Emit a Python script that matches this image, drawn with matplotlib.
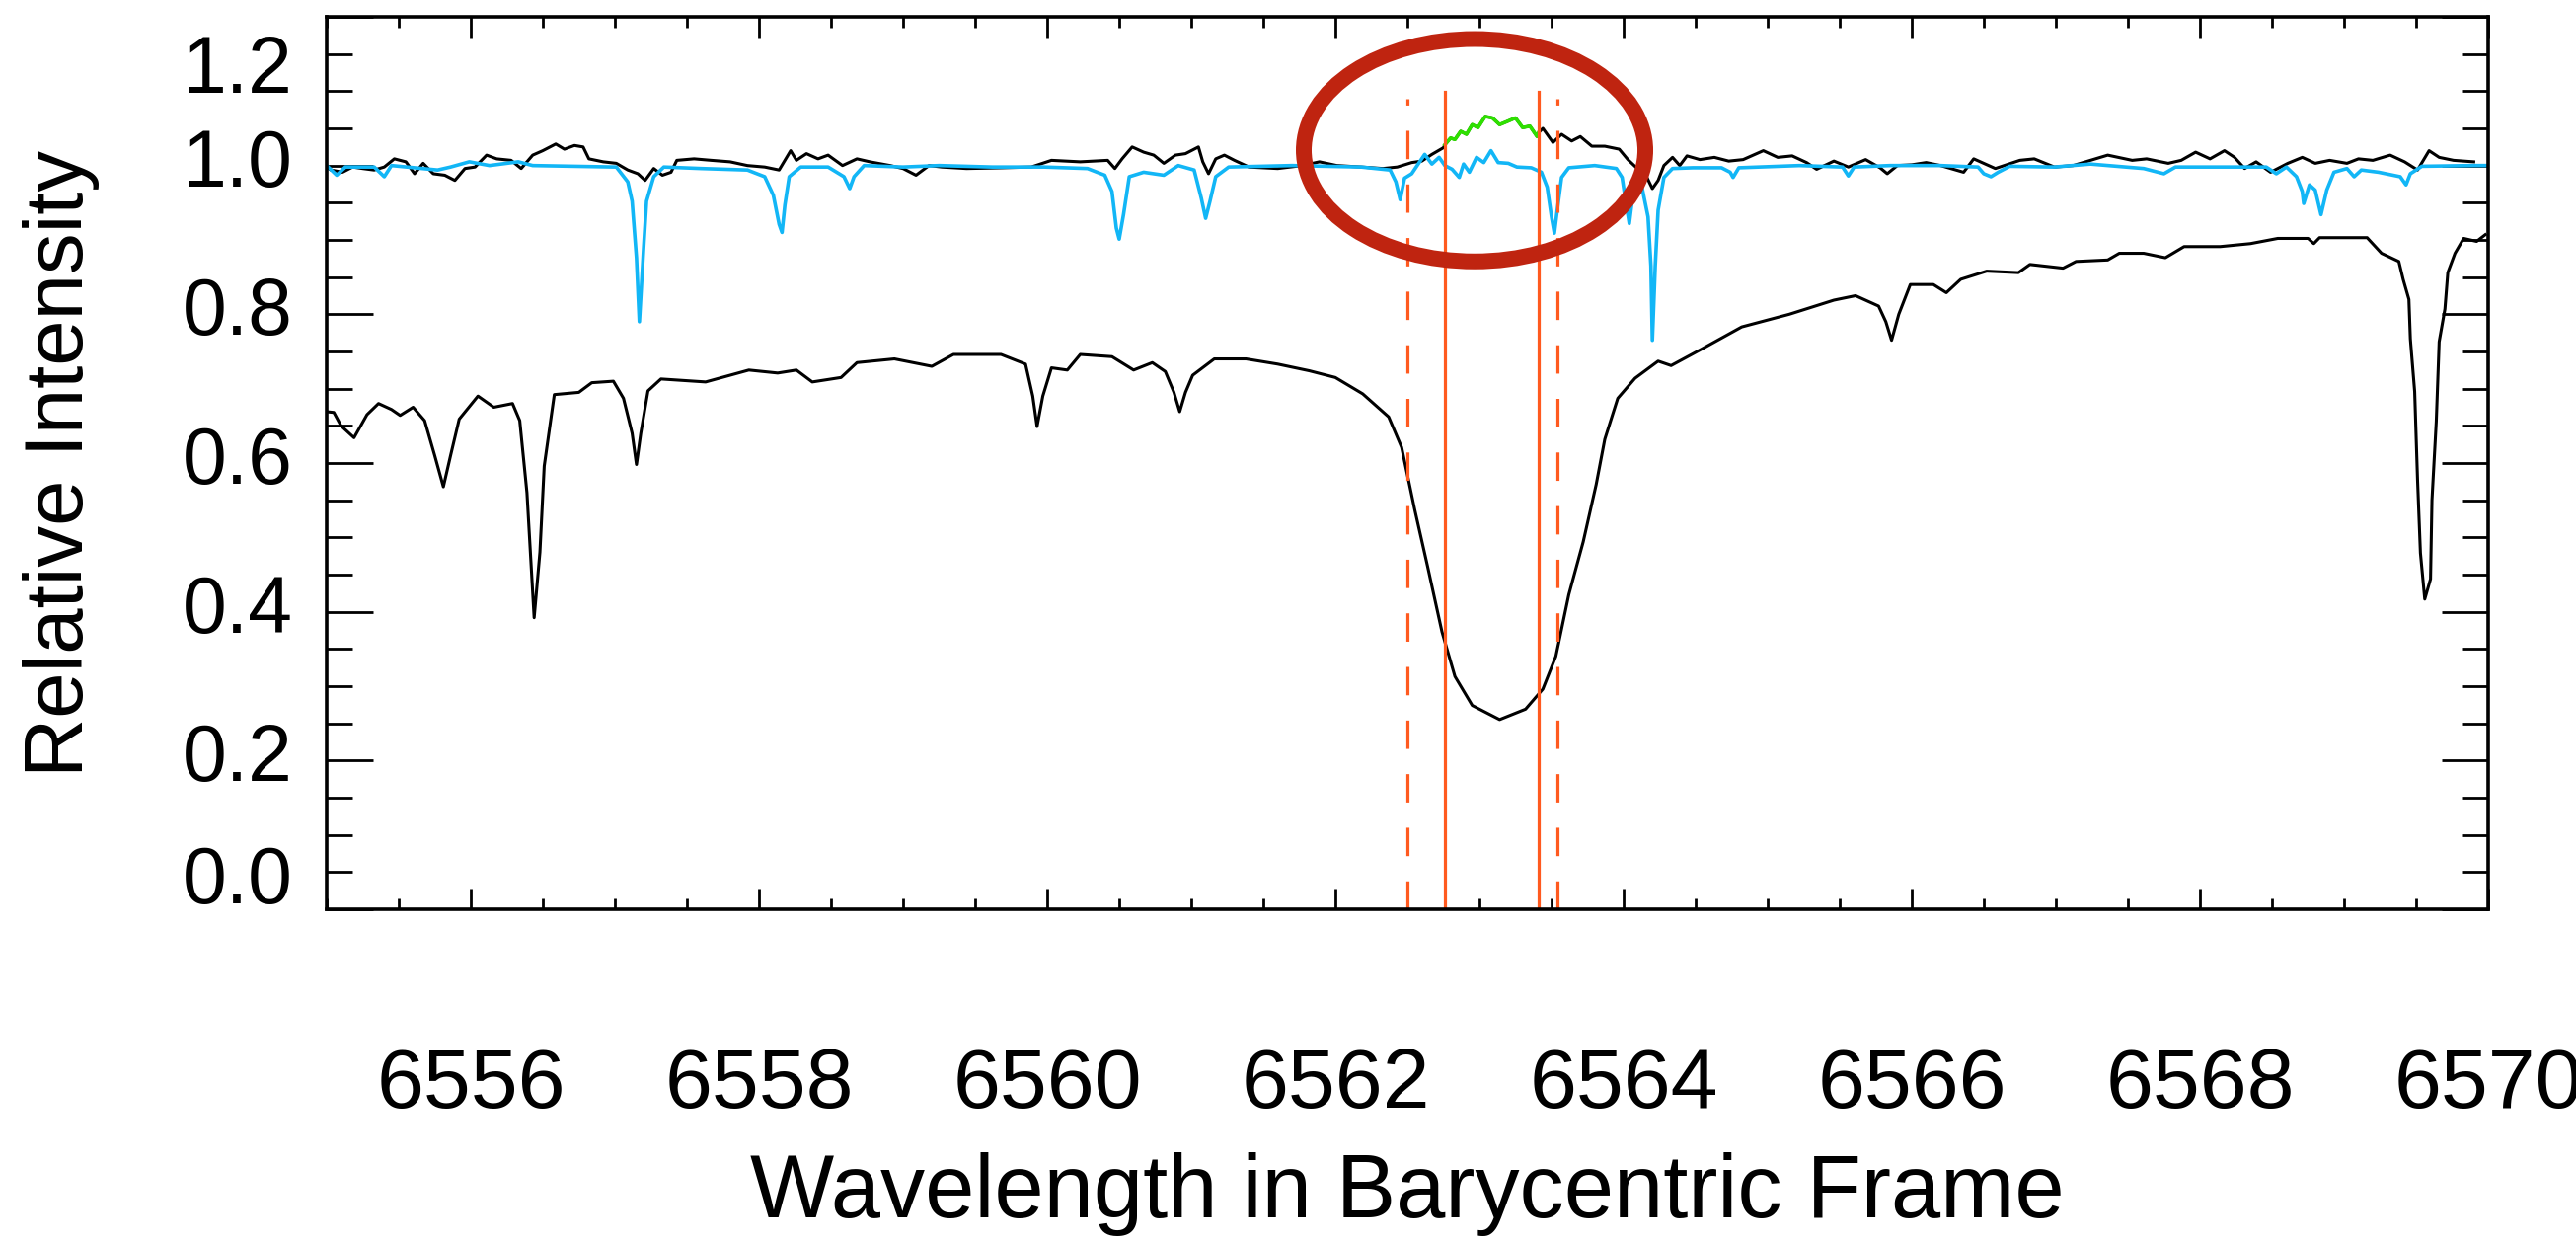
import numpy as np
import matplotlib.pyplot as plt
from matplotlib.patches import Ellipse
from matplotlib.ticker import MultipleLocator
import matplotlib.transforms as mtransforms

plt.rcParams['font.family'] = ['Liberation Sans', 'DejaVu Sans']

# lower black curve: stellar spectrum around H-alpha
wl_star = [6555.00, 6555.05, 6555.10, 6555.19, 6555.28, 6555.36, 6555.45, 6555.51, 6555.60, 6555.68,
           6555.75, 6555.81, 6555.86, 6555.92, 6556.05, 6556.16, 6556.29, 6556.34, 6556.39, 6556.44,
           6556.48, 6556.51, 6556.58, 6556.75, 6556.84, 6556.99, 6557.06, 6557.12, 6557.15, 6557.18,
           6557.23, 6557.32, 6557.63, 6557.93, 6558.13, 6558.26, 6558.37, 6558.57, 6558.68, 6558.94,
           6559.20, 6559.35, 6559.68, 6559.85, 6559.90, 6559.93, 6559.97, 6560.03, 6560.14, 6560.23,
           6560.45, 6560.60, 6560.73, 6560.82, 6560.88, 6560.92, 6560.96, 6561.01, 6561.16, 6561.38,
           6561.60, 6561.82, 6562.00, 6562.19, 6562.37, 6562.46, 6562.55, 6562.64, 6562.74, 6562.83,
           6562.95, 6563.14, 6563.32, 6563.44, 6563.53, 6563.62, 6563.72, 6563.81, 6563.87, 6563.96,
           6564.08, 6564.24, 6564.33, 6564.54, 6564.82, 6565.15, 6565.46, 6565.61, 6565.77, 6565.82,
           6565.86, 6565.91, 6565.99, 6566.15, 6566.24, 6566.34, 6566.52, 6566.74, 6566.82, 6567.05,
           6567.14, 6567.36, 6567.44, 6567.61, 6567.76, 6567.89, 6568.14, 6568.35, 6568.54, 6568.75,
           6568.79, 6568.83, 6569.16, 6569.26, 6569.38, 6569.41, 6569.45, 6569.46, 6569.49, 6569.51,
           6569.53, 6569.56, 6569.60, 6569.61, 6569.64, 6569.66, 6569.70, 6569.72, 6569.77, 6569.83,
           6569.92, 6569.98]
flux_star = [0.669, 0.668, 0.650, 0.634, 0.665, 0.680, 0.672, 0.664, 0.675, 0.657,
             0.610, 0.568, 0.610, 0.659, 0.690, 0.675, 0.680, 0.657, 0.560, 0.392,
             0.480, 0.596, 0.692, 0.695, 0.708, 0.710, 0.687, 0.640, 0.598, 0.640,
             0.697, 0.713, 0.709, 0.725, 0.721, 0.725, 0.709, 0.715, 0.735, 0.740,
             0.730, 0.746, 0.746, 0.733, 0.690, 0.649, 0.690, 0.728, 0.725, 0.746,
             0.743, 0.725, 0.735, 0.723, 0.695, 0.669, 0.695, 0.718, 0.740, 0.740,
             0.733, 0.724, 0.715, 0.693, 0.662, 0.621, 0.538, 0.461, 0.373, 0.313,
             0.274, 0.255, 0.269, 0.296, 0.340, 0.423, 0.494, 0.571, 0.632, 0.687,
             0.714, 0.737, 0.731, 0.753, 0.783, 0.800, 0.819, 0.825, 0.811, 0.790,
             0.765, 0.800, 0.840, 0.840, 0.829, 0.847, 0.858, 0.856, 0.867, 0.862,
             0.871, 0.873, 0.882, 0.882, 0.876, 0.891, 0.891, 0.895, 0.902, 0.902,
             0.895, 0.903, 0.903, 0.882, 0.871, 0.847, 0.820, 0.767, 0.696, 0.577,
             0.479, 0.417, 0.444, 0.550, 0.656, 0.763, 0.807, 0.856, 0.882, 0.902,
             0.898, 0.907]

# upper black curve: residual spectrum
wl_resid = [6555.00, 6555.03, 6555.11, 6555.18, 6555.25, 6555.33, 6555.40, 6555.47, 6555.55, 6555.61,
            6555.67, 6555.74, 6555.82, 6555.89, 6555.96, 6556.03, 6556.11, 6556.18, 6556.28, 6556.35,
            6556.43, 6556.50, 6556.59, 6556.65, 6556.72, 6556.78, 6556.82, 6556.92, 6557.01, 6557.09,
            6557.16, 6557.21, 6557.27, 6557.33, 6557.39, 6557.43, 6557.55, 6557.67, 6557.80, 6557.92,
            6558.04, 6558.14, 6558.22, 6558.26, 6558.33, 6558.41, 6558.48, 6558.58, 6558.68, 6558.77,
            6558.91, 6559.00, 6559.09, 6559.18, 6559.27, 6559.44, 6559.69, 6559.89, 6560.03, 6560.23,
            6560.42, 6560.47, 6560.52, 6560.59, 6560.67, 6560.74, 6560.81, 6560.89, 6560.96, 6561.05,
            6561.08, 6561.12, 6561.17, 6561.23, 6561.30, 6561.40, 6561.60, 6561.77, 6561.89, 6562.01,
            6562.18, 6562.33, 6562.43, 6562.53, 6562.60, 6562.67, 6562.75, 6562.76, 6562.80, 6562.83,
            6562.87, 6562.91, 6562.95, 6562.99, 6563.04, 6563.09, 6563.14, 6563.19, 6563.25, 6563.30,
            6563.35, 6563.40, 6563.41, 6563.44, 6563.51, 6563.57, 6563.64, 6563.70, 6563.78, 6563.87,
            6563.97, 6564.03, 6564.09, 6564.15, 6564.20, 6564.24, 6564.28, 6564.34, 6564.39, 6564.44,
            6564.53, 6564.63, 6564.73, 6564.83, 6564.97, 6565.07, 6565.17, 6565.27, 6565.34, 6565.46,
            6565.56, 6565.68, 6565.78, 6565.83, 6565.90, 6566.00, 6566.10, 6566.20, 6566.36, 6566.43,
            6566.58, 6566.75, 6566.85, 6566.99, 6567.12, 6567.24, 6567.36, 6567.53, 6567.63, 6567.78,
            6567.87, 6567.97, 6568.07, 6568.17, 6568.24, 6568.31, 6568.39, 6568.49, 6568.61, 6568.71,
            6568.80, 6568.90, 6569.02, 6569.10, 6569.20, 6569.32, 6569.42, 6569.51, 6569.59, 6569.66,
            6569.76, 6569.90]
flux_resid = [0.998, 0.994, 0.991, 0.998, 0.996, 0.994, 0.998, 1.009, 1.005, 0.989,
              1.003, 0.989, 0.987, 0.980, 0.996, 0.998, 1.014, 1.009, 1.007, 0.996,
              1.014, 1.020, 1.029, 1.022, 1.027, 1.025, 1.009, 1.005, 1.003, 0.994,
              0.989, 0.980, 0.996, 0.987, 0.991, 1.007, 1.009, 1.007, 1.005, 1.000,
              0.998, 0.994, 1.020, 1.007, 1.016, 1.009, 1.014, 1.000, 1.009, 1.005,
              1.000, 0.996, 0.987, 1.000, 0.998, 0.996, 0.997, 0.998, 1.007, 1.005,
              1.007, 0.996, 1.009, 1.025, 1.018, 1.014, 1.003, 1.014, 1.016, 1.025,
              1.005, 0.989, 1.009, 1.014, 1.007, 0.998, 0.996, 1.000, 1.005, 1.000,
              0.998, 0.996, 0.998, 1.004, 1.006, 1.015, 1.024, 1.028, 1.037, 1.035,
              1.046, 1.042, 1.055, 1.051, 1.066, 1.064, 1.055, 1.059, 1.064, 1.051,
              1.053, 1.039, 1.044, 1.050, 1.031, 1.042, 1.033, 1.039, 1.026, 1.026,
              1.022, 1.008, 0.997, 0.989, 0.969, 0.980, 1.000, 1.011, 1.000, 1.013,
              1.008, 1.011, 1.006, 1.008, 1.020, 1.011, 1.013, 1.004, 0.995, 1.006,
              0.998, 1.008, 0.997, 0.989, 1.000, 1.001, 1.004, 1.000, 0.991, 1.009,
              0.996, 1.007, 1.009, 0.998, 1.000, 1.007, 1.014, 1.007, 1.009, 1.003,
              1.007, 1.018, 1.009, 1.020, 1.011, 0.996, 1.005, 0.991, 1.003, 1.011,
              1.003, 1.007, 1.003, 1.009, 1.007, 1.014, 1.005, 0.994, 1.020, 1.011,
              1.007, 1.005]

# cyan curve: telluric spectrum
wl_tell = [6555.00, 6555.07, 6555.13, 6555.33, 6555.40, 6555.45, 6555.77, 6555.86, 6555.99, 6556.13,
           6556.33, 6556.43, 6557.01, 6557.09, 6557.12, 6557.15, 6557.17, 6557.20, 6557.22, 6557.27,
           6557.34, 6557.60, 6557.92, 6558.04, 6558.10, 6558.14, 6558.16, 6558.18, 6558.21, 6558.29,
           6558.48, 6558.59, 6558.63, 6558.66, 6558.73, 6559.00, 6559.25, 6559.62, 6559.98, 6560.28,
           6560.40, 6560.45, 6560.48, 6560.50, 6560.53, 6560.57, 6560.67, 6560.81, 6560.91, 6561.02,
           6561.07, 6561.10, 6561.13, 6561.17, 6561.26, 6561.70, 6562.18, 6562.38, 6562.42, 6562.45,
           6562.48, 6562.53, 6562.62, 6562.67, 6562.72, 6562.76, 6562.81, 6562.86, 6562.89, 6562.93,
           6562.98, 6563.03, 6563.08, 6563.13, 6563.20, 6563.26, 6563.36, 6563.43, 6563.47, 6563.50,
           6563.52, 6563.54, 6563.57, 6563.62, 6563.80, 6563.95, 6563.99, 6564.01, 6564.04, 6564.06,
           6564.09, 6564.13, 6564.17, 6564.19, 6564.20, 6564.22, 6564.24, 6564.28, 6564.34, 6564.48,
           6564.68, 6564.74, 6564.76, 6564.80, 6565.22, 6565.52, 6565.56, 6565.60, 6565.85, 6566.20,
           6566.46, 6566.50, 6566.55, 6566.60, 6566.68, 6566.99, 6567.24, 6567.61, 6567.75, 6567.83,
           6568.46, 6568.53, 6568.60, 6568.67, 6568.71, 6568.72, 6568.76, 6568.80, 6568.84, 6568.88,
           6568.93, 6569.02, 6569.07, 6569.12, 6569.24, 6569.39, 6569.43, 6569.46, 6569.54, 6569.90,
           6570.00]
flux_tell = [1.000, 0.987, 0.998, 0.998, 0.985, 1.000, 0.994, 0.998, 1.005, 1.000,
             1.005, 1.000, 0.998, 0.978, 0.952, 0.876, 0.790, 0.890, 0.952, 0.985,
             0.998, 0.996, 0.994, 0.985, 0.960, 0.921, 0.910, 0.947, 0.985, 0.998,
             0.998, 0.985, 0.969, 0.985, 1.000, 0.998, 1.000, 0.998, 0.998, 0.996,
             0.987, 0.965, 0.916, 0.901, 0.934, 0.985, 0.991, 0.987, 1.000, 0.994,
             0.956, 0.929, 0.952, 0.985, 0.998, 1.000, 0.998, 0.994, 0.978, 0.954,
             0.983, 0.989, 1.015, 1.002, 1.011, 1.000, 0.995, 0.984, 1.002, 0.991,
             1.011, 1.004, 1.020, 1.004, 1.003, 0.998, 0.997, 0.991, 0.971, 0.931,
             0.909, 0.940, 0.984, 0.997, 1.000, 0.996, 0.984, 0.958, 0.922, 0.953,
             0.975, 0.969, 0.931, 0.865, 0.765, 0.865, 0.940, 0.984, 0.996, 0.997,
             0.997, 0.991, 0.984, 0.997, 1.000, 0.998, 0.986, 0.998, 1.000, 1.000,
             0.998, 0.989, 0.985, 0.991, 0.999, 0.998, 1.002, 0.996, 0.989, 0.998,
             0.998, 0.989, 0.998, 0.985, 0.965, 0.949, 0.974, 0.967, 0.934, 0.967,
             0.991, 0.996, 0.985, 0.994, 0.991, 0.985, 0.974, 0.989, 0.999, 1.000,
             1.000]

# integration limits
solid_lines = [6562.76, 6563.41]
dashed_lines = [6562.50, 6563.54]
solid_top = 1.099
dashed_top = 1.090

xticks = [6556, 6558, 6560, 6562, 6564, 6566, 6568, 6570]
yticks = [0.0, 0.2, 0.4, 0.6, 0.8, 1.0, 1.2]
ytick_labels = ['0.0', '0.2', '0.4', '0.6', '0.8', '1.0', '1.2']

red = '#ff5a1f'
cyan = '#12b6f6'
green = '#2ee000'

fig = plt.figure(figsize=(26.1, 12.59), dpi=100)
ax = fig.add_axes([0.1268, 0.2685, 0.8391, 0.718])

ax.plot(wl_star, flux_star, color='black', linewidth=2.2)
ax.plot(wl_resid, flux_resid, color='black', linewidth=2.2)
ax.plot(wl_tell, flux_tell, color=cyan, linewidth=2.6)

wr = np.array(wl_resid)
fr = np.array(flux_resid)
inside = (wr >= solid_lines[0]) & (wr <= solid_lines[1])
ax.plot(wr[inside], fr[inside], color=green, linewidth=2.6)

for x in solid_lines:
    ax.plot([x, x], [0, solid_top], color=red, linewidth=2.3)
for x in dashed_lines:
    ax.plot([x, x], [0, dashed_top], color=red, linewidth=2.3, dashes=(9, 8))

ax.add_patch(Ellipse((6562.966, 1.0206), width=2.37, height=0.299, fill=False,
                     edgecolor='#bf2410', linewidth=11.5, zorder=5))

ax.set_xlim(6555, 6570)
ax.set_ylim(0, 1.2)

ax.set_xticks(xticks)
ax.xaxis.set_minor_locator(MultipleLocator(0.5))
ax.set_yticks(yticks)
ax.set_yticklabels([])
ax.yaxis.set_minor_locator(MultipleLocator(0.05))

ax.tick_params(axis='x', which='major', direction='in', length=15, width=2, top=True, pad=100,
               labelsize=62)
ax.tick_params(axis='x', which='minor', direction='in', length=8, width=2, top=True)
ax.tick_params(axis='y', which='major', direction='in', length=34, width=2, right=True)
ax.tick_params(axis='y', which='minor', direction='in', length=19, width=2, right=True)
for s in ax.spines.values():
    s.set_linewidth(2.6)

# y tick labels, the end ones pulled inside the frame as in the original
label_shift = {'1.2': -56, '0.0': 27}
trans = ax.get_yaxis_transform()
for v, lab in zip(yticks, ytick_labels):
    dy = label_shift.get(lab, 0) / 100.0
    t = trans + mtransforms.ScaledTranslation(-0.34, dy, fig.dpi_scale_trans)
    ax.text(0, v, lab, transform=t, ha='right', va='center', fontsize=58, clip_on=False)

fig.text(0.5464, 0.0207, 'Wavelength in Barycentric Frame', ha='center', va='baseline', fontsize=65)
fig.text(0.0238, 0.627, 'Relative Intensity', rotation=90, ha='center', va='center', fontsize=60)

fig.savefig('out.png', dpi=100)
